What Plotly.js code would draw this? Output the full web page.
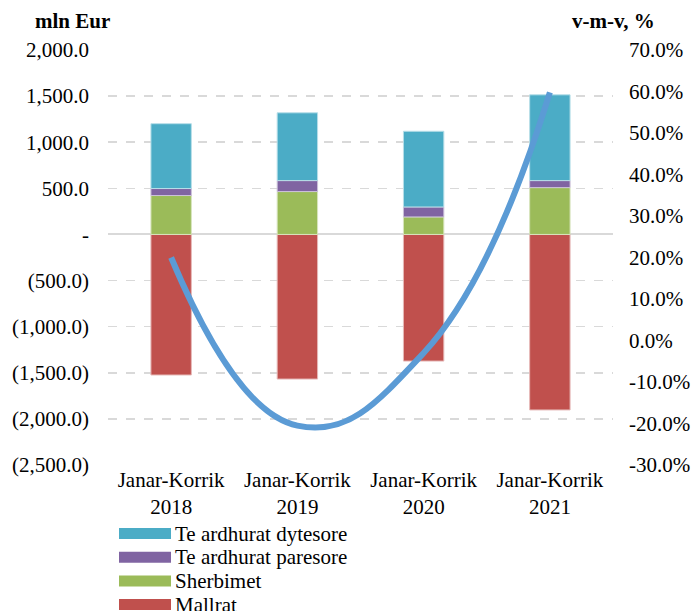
<!DOCTYPE html>
<html><head><meta charset="utf-8">
<script src="https://cdn.plot.ly/plotly-3.0.1.min.js"></script>
<style>body{margin:0;background:#fff}#c{width:693px;height:611px}</style>
</head><body><div id="c"></div>
<script>
const categories = ["Janar-Korrik<br>2018", "Janar-Korrik<br>2019", "Janar-Korrik<br>2020", "Janar-Korrik<br>2021"];
const mallrat = [-1524, -1568, -1373, -1903];
const sherbimet = [422, 465, 190, 508];
const paresore = [76, 119, 108, 76];
const dytesore = [703, 735, 821, 930];
const vmv = [20.0, -20.5, -3.0, 59.8];
const leftTickVals = [2000, 1500, 1000, 500, 0, -500, -1000, -1500, -2000, -2500];
const leftTickText = ["2,000.0", "1,500.0", "1,000.0", "500.0", "-", "(500.0)", "(1,000.0)", "(1,500.0)", "(2,000.0)", "(2,500.0)"];
const rightTickVals = [70, 60, 50, 40, 30, 20, 10, 0, -10, -20, -30];
const rightTickText = rightTickVals.map(v => v.toFixed(1) + "%");

const FAM = "'Liberation Serif', 'Times New Roman', serif";
const font = {family: FAM, size: 21, color: "#000"};
const bw = 0.32;
const series = [
  {name: "Mallrat", y: mallrat, color: "#c0504d", edge: "#e6b9b8"},
  {name: "Sherbimet", y: sherbimet, color: "#9bbb59", edge: "#d7e4bd"},
  {name: "Te ardhurat paresore", y: paresore, color: "#8064a2", edge: "#ccc1da"},
  {name: "Te ardhurat dytesore", y: dytesore, color: "#4bacc6", edge: "#b7dee8"}
];
const traces = series.map(s => ({type: "bar", name: s.name, x: categories, y: s.y, width: bw,
  marker: {color: s.color, line: {color: s.edge, width: 1}}}));
traces.push({type: "scatter", mode: "lines", name: "v-m-v", x: categories, y: vmv, yaxis: "y2",
  line: {color: "#5b9bd5", width: 6, shape: "spline", smoothing: 1.3}});

// custom legend (wide swatches, like the original), in paper coordinates
const plotL = 108, plotW = 505, plotT = 50, plotH = 415;
const px2x = p => (p - plotL) / plotW;
const py2y = p => (plotT + plotH - p) / plotH;
const shapes = [], annotations = [];
series.slice().reverse().forEach((s, i) => {
  const cy = 533.5 + i * 23.7;
  shapes.push({type: "rect", xref: "paper", yref: "paper", x0: px2x(119), x1: px2x(171), y0: py2y(cy - 5.5), y1: py2y(cy + 5.5),
    fillcolor: s.color, line: {width: 0}});
  annotations.push({xref: "paper", yref: "paper", x: px2x(173), y: py2y(cy), text: s.name, showarrow: false,
    xanchor: "left", yanchor: "middle", font: font});
});
annotations.push({xref: "paper", yref: "paper", x: px2x(72), y: py2y(21), text: "<b>mln Eur</b>", showarrow: false, xanchor: "center", yanchor: "middle", font: font});
annotations.push({xref: "paper", yref: "paper", x: px2x(613), y: py2y(21), text: "<b>v-m-v, %</b>", showarrow: false, xanchor: "center", yanchor: "middle", font: font});

const layout = {
  width: 693, height: 611,
  margin: {l: 108, r: 80, t: 50, b: 146, autoexpand: false},
  barmode: "relative",
  paper_bgcolor: "#fff", plot_bgcolor: "#fff",
  font: font,
  showlegend: false,
  xaxis: {showgrid: false, showline: false, ticks: "", tickfont: font, zeroline: false},
  yaxis: {range: [-2500, 2000], tickvals: leftTickVals, ticktext: leftTickText, showgrid: true, gridcolor: "#d9d9d9", griddash: "dash", gridwidth: 1.5,
          zeroline: true, zerolinecolor: "#d9d9d9", zerolinewidth: 2, ticks: "", tickfont: font, showline: false, automargin: false, ticklabelstandoff: 18},
  yaxis2: {overlaying: "y", side: "right", range: [-30, 70], tickvals: rightTickVals, ticktext: rightTickText, showgrid: false, zeroline: false,
           ticks: "", tickfont: font, showline: false, automargin: false, ticklabelstandoff: 15},
  shapes: shapes,
  annotations: annotations
};
Plotly.newPlot("c", traces, layout, {displayModeBar: false, staticPlot: true});
</script></body></html>
